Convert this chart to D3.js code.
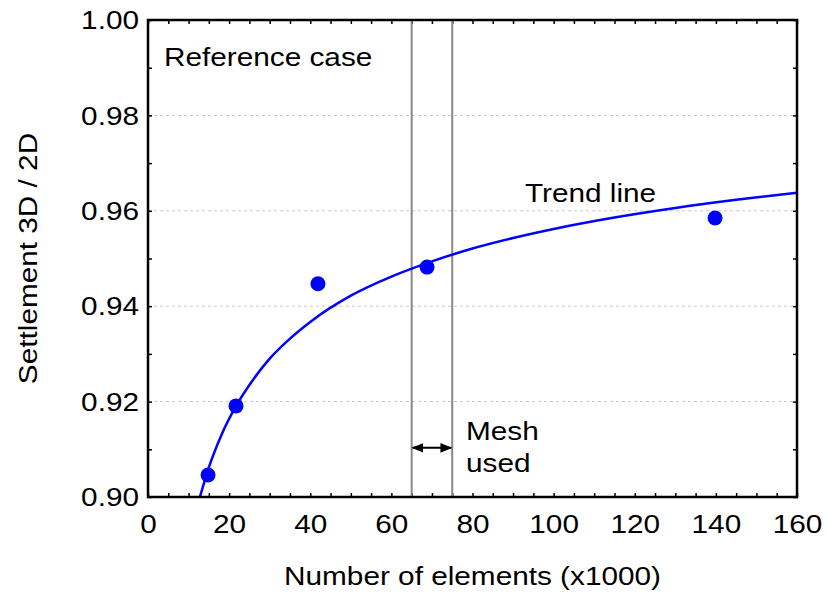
<!DOCTYPE html>
<html><head><meta charset="utf-8">
<script src="https://cdn.jsdelivr.net/npm/d3@7"></script>
<style>
body{margin:0;background:#fff;}
svg text{font-family:Arial,"Liberation Sans",sans-serif;fill:#000;}
</style></head>
<body><svg id="c" width="829" height="606"></svg>
<script>
// data
const pointX = [14.8, 21.7, 41.9, 68.8, 139.8];
const pointY = [0.9046, 0.9191, 0.9447, 0.9482, 0.9585];
const trendX = [12.8, 15, 18, 22, 26, 30, 35, 40, 50, 60, 70, 80, 90, 100, 115, 130, 145, 160];
const trendY = [0.9000, 0.9062, 0.9128, 0.9195, 0.9247, 0.9290, 0.9332, 0.9367, 0.9422, 0.9462, 0.9494, 0.9521, 0.9543, 0.9562, 0.9586, 0.9606, 0.9623, 0.9638];
const meshBounds = [65, 75];
const xTicks = [0, 20, 40, 60, 80, 100, 120, 140, 160];
const yTicks = [0.90, 0.92, 0.94, 0.96, 0.98, 1.00];
const gridY = [0.92, 0.94, 0.96, 0.98];
const arrowY = 0.9103;

const FS = 25, SX = 1.19;
const L = 148, R = 797, T = 20, B = 497;
const svg = d3.select("#c");
const x = d3.scaleLinear().domain([0, 160]).range([L, R]);
const y = d3.scaleLinear().domain([0.90, 1.00]).range([B, T]);

svg.append("defs").html(`
<marker id="ah" viewBox="0 0 10 10" refX="9" refY="5" markerWidth="12" markerHeight="12" markerUnits="userSpaceOnUse" orient="auto-start-reverse">
<path d="M0,1 L10,5 L0,9 z" fill="#000"/></marker>`);

// helper: horizontally stretched text
function label(px, py, str, anchor, rot) {
  const g = svg.append("g").attr("transform", `translate(${px},${py})` + (rot ? ` rotate(${rot})` : ""));
  g.append("text").attr("transform", `scale(${SX},1)`).attr("font-size", FS)
    .attr("text-anchor", anchor || "start").text(str);
}

// grid
svg.append("g").selectAll("line").data(gridY).join("line")
  .attr("x1", L).attr("x2", R).attr("y1", d => y(d)).attr("y2", d => y(d))
  .attr("stroke", "#c8c8c8").attr("stroke-width", 1).attr("stroke-dasharray", "3,3");

// axes with inside ticks
const minorX = d3.range(0, 161, 5);
const minorY = d3.range(0, 11).map(i => 0.90 + i * 0.01);
const axB = d3.axisBottom(x).tickValues(minorX).tickSizeInner(-4).tickSizeOuter(0).tickFormat("");
const axT = d3.axisTop(x).tickValues(minorX).tickSizeInner(-4).tickSizeOuter(0).tickFormat("");
const axL = d3.axisLeft(y).tickValues(minorY).tickSizeInner(-4).tickSizeOuter(0).tickFormat("");
const axR = d3.axisRight(y).tickValues(minorY).tickSizeInner(-4).tickSizeOuter(0).tickFormat("");
[[axB, `translate(0,${B})`], [axT, `translate(0,${T})`], [axL, `translate(${L},0)`], [axR, `translate(${R},0)`]].forEach(([a, t]) => {
  const g = svg.append("g").attr("transform", t).call(a);
  g.select(".domain").remove();
  g.selectAll("line").attr("stroke", "#000").attr("stroke-width", 1.5);
});

// tick labels
const gxl = d3.axisBottom(x).tickValues(xTicks).tickSize(0).tickFormat(d3.format("d"));
const gx = svg.append("g").attr("transform", `translate(0,${B})`).call(gxl);
gx.select(".domain").remove();
gx.selectAll("text").attr("font-size", FS).attr("dy", "0").attr("y", 36)
  .attr("transform", `scale(${SX},1)`);
const gyl = d3.axisLeft(y).tickValues(yTicks).tickSize(0).tickFormat(d3.format(".2f"));
const gy = svg.append("g").attr("transform", `translate(${L},0)`).call(gyl);
gy.select(".domain").remove();
gy.selectAll("text").attr("font-size", FS).attr("dy", "0.35em")
  .attr("x", -9 / SX).attr("transform", `scale(${SX},1)`);

// mesh lines
svg.append("g").selectAll("line").data(meshBounds).join("line")
  .attr("x1", d => x(d)).attr("x2", d => x(d)).attr("y1", T).attr("y2", B)
  .attr("stroke", "#888").attr("stroke-width", 2);

// arrow
svg.append("line").attr("x1", x(meshBounds[0]) + 1).attr("x2", x(meshBounds[1]) - 1)
  .attr("y1", y(arrowY)).attr("y2", y(arrowY))
  .attr("stroke", "#000").attr("stroke-width", 2)
  .attr("marker-start", "url(#ah)").attr("marker-end", "url(#ah)");

// trend line
const trend = trendX.map((d, i) => [d, trendY[i]]);
svg.append("path").datum(trend)
  .attr("d", d3.line().x(d => x(d[0])).y(d => y(d[1])).curve(d3.curveMonotoneX))
  .attr("fill", "none").attr("stroke", "#0000ff").attr("stroke-width", 2.5);

// points
svg.append("g").selectAll("circle").data(pointX.map((d, i) => [d, pointY[i]])).join("circle")
  .attr("cx", d => x(d[0])).attr("cy", d => y(d[1])).attr("r", 7.5).attr("fill", "#0000ff");

// frame
svg.append("rect").attr("x", L).attr("y", T).attr("width", R - L).attr("height", B - T)
  .attr("fill", "none").attr("stroke", "#000").attr("stroke-width", 2.5);

// annotations
label(164, 66, "Reference case");
label(525, 202, "Trend line");
label(466, 440, "Mesh");
label(466, 472, "used");

// axis titles
label((L + R) / 2, 585, "Number of elements (x1000)", "middle");
label(37, (T + B) / 2, "Settlement 3D / 2D", "middle", -90);
</script></body></html>
